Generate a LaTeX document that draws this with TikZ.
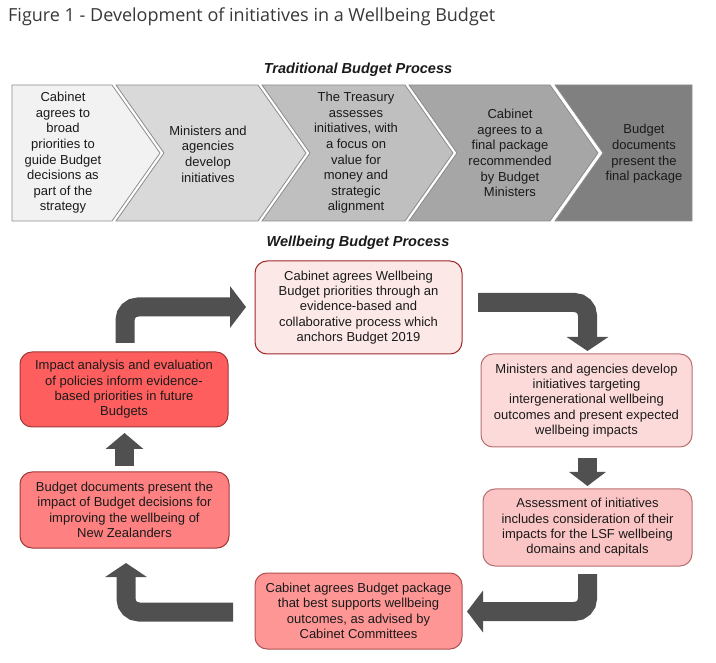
\documentclass[tikz,border=0pt]{standalone}
\usepackage{fontspec}
\setmainfont{Liberation Sans}
\newfontfamily\titlefont{Open Sans}
\usetikzlibrary{arrows.meta}
\definecolor{chA}{HTML}{F2F2F2}
\definecolor{chB}{HTML}{D9D9D9}
\definecolor{chC}{HTML}{BFBFBF}
\definecolor{chD}{HTML}{A6A6A6}
\definecolor{chE}{HTML}{808080}
\definecolor{chborder}{HTML}{8C8C8C}
\definecolor{txt}{HTML}{1A1A1A}
\definecolor{arrowgray}{HTML}{505050}
\definecolor{fA}{HTML}{FDE8E8}
\definecolor{fB}{HTML}{FDDADA}
\definecolor{fC}{HTML}{FCC5C5}
\definecolor{fD}{HTML}{FE9696}
\definecolor{fE}{HTML}{FF8080}
\definecolor{fF}{HTML}{FF5E5E}
\definecolor{bA}{HTML}{A02828}
\definecolor{bB}{HTML}{B87070}
\definecolor{bD}{HTML}{B05050}
\definecolor{bE}{HTML}{A03838}
\begin{document}
\begin{tikzpicture}[x=1pt,y=-1pt,
  chev/.style={draw=chborder,line width=0.8pt},
  chtext/.style={align=center,text=txt,font=\fontsize{13}{15.6}\selectfont,inner sep=0pt},
  wbox/.style={rounded corners=12pt,line width=1pt,align=center,text=txt,
    font=\fontsize{13}{15.3}\selectfont,inner sep=0pt},
  head/.style={text=txt,font=\fontsize{14.5}{16}\selectfont\bfseries\itshape,inner sep=0pt},
  bigarrow/.style={draw=arrowgray,line width=19pt,rounded corners=13pt},
]
\useasboundingbox (0,0) rectangle (716,663);
% title
\node[anchor=west,inner sep=0pt,text=black!78,font=\titlefont\fontsize{18}{20}\selectfont] (title) at (8,17) {Figure 1 - Development of initiatives in a Wellbeing Budget};
\node[head] (trad) at (358,70) {Traditional Budget Process};
% chevrons
\filldraw[chev,fill=chA] (12,85) -- (112,85) -- (160,153) -- (112,221) -- (12,221) -- cycle;
\filldraw[chev,fill=chB] (116,85) -- (258,85) -- (306,153) -- (258,221) -- (116,221) -- (164,153) -- cycle;
\filldraw[chev,fill=chC] (262,85) -- (405,85) -- (453,153) -- (405,221) -- (262,221) -- (310,153) -- cycle;
\filldraw[chev,fill=chD] (409,85) -- (550,85) -- (598,153) -- (550,221) -- (409,221) -- (457,153) -- cycle;
\filldraw[chev,fill=chE] (555,85) -- (692,85) -- (692,221) -- (555,221) -- (603,153) -- cycle;
\node[chtext] (c1) at (63,153) {Cabinet\\agrees to\\broad\\priorities to\\guide Budget\\decisions as\\part of the\\strategy};
\node[chtext] (c2) at (208,154) {Ministers and\\agencies\\develop\\initiatives};
\node[chtext] (c3) at (356,153) {The Treasury\\assesses\\initiatives, with\\a focus on\\value for\\money and\\strategic\\alignment};
\node[chtext] (c4) at (510,153) {Cabinet\\agrees to a\\final package\\recommended\\by Budget\\Ministers};
\node[chtext] (c5) at (644,154) {Budget\\documents\\present the\\final package};
% wellbeing
\node[head] (wb) at (358,243) {Wellbeing Budget Process};
\node[wbox,draw=bA,fill=fA,minimum width=207pt,minimum height=93pt] (A) at (358.5,307.5) {Cabinet agrees Wellbeing\\Budget priorities through an\\evidence-based and\\collaborative process which\\anchors Budget 2019};
\node[wbox,draw=bB,fill=fB,minimum width=211pt,minimum height=93pt] (B) at (586.5,400.5) {Ministers and agencies develop\\initiatives targeting\\intergenerational wellbeing\\outcomes and present expected\\wellbeing impacts};
\node[wbox,draw=bB,fill=fC,minimum width=209pt,minimum height=77pt] (C) at (587.5,527.5) {Assessment of initiatives\\includes consideration of their\\impacts for the LSF wellbeing\\domains and capitals};
\node[wbox,draw=bD,fill=fD,minimum width=207pt,minimum height=76pt] (D) at (358.5,611) {Cabinet agrees Budget package\\that best supports wellbeing\\outcomes, as advised by\\Cabinet Committees};
\node[wbox,draw=bE,fill=fE,minimum width=209pt,minimum height=76pt] (E) at (124.5,510) {Budget documents present the\\impact of Budget decisions for\\improving the wellbeing of\\New Zealanders};
\node[wbox,draw=bE,fill=fF,minimum width=208pt,minimum height=75pt] (F) at (124,389.5) {Impact analysis and evaluation\\of policies inform evidence-\\based priorities in future\\Budgets};
% arrow coordinates
\coordinate (a1s) at (125,343);
\coordinate (a1e) at (246,307);
\coordinate (a2s) at (478,302.5);
\coordinate (a2e) at (587.5,351);
\coordinate (a3s) at (587.5,458);
\coordinate (a3e) at (587.5,486);
\coordinate (a4s) at (587.5,574);
\coordinate (a4e) at (467,611.5);
\coordinate (a5s) at (233,612);
\coordinate (a5e) at (126,563);
\coordinate (a6s) at (124.5,466);
\coordinate (a6e) at (124.5,433);
\draw[bigarrow,-{Triangle[length=16pt,width=41pt]}] (a1s) |- (a1e);
\draw[bigarrow,-{Triangle[length=14pt,width=41pt]}] (a2s) -| (a2e);
\draw[bigarrow,-{Triangle[length=14pt,width=36pt]}] (a3s) -- (a3e);
\draw[bigarrow,-{Triangle[length=16pt,width=41pt]}] (a4s) |- (a4e);
\draw[bigarrow,-{Triangle[length=14pt,width=41pt]}] (a5s) -| (a5e);
\draw[bigarrow,-{Triangle[length=16pt,width=37pt]}] (a6s) -- (a6e);
\end{tikzpicture}
\end{document}
